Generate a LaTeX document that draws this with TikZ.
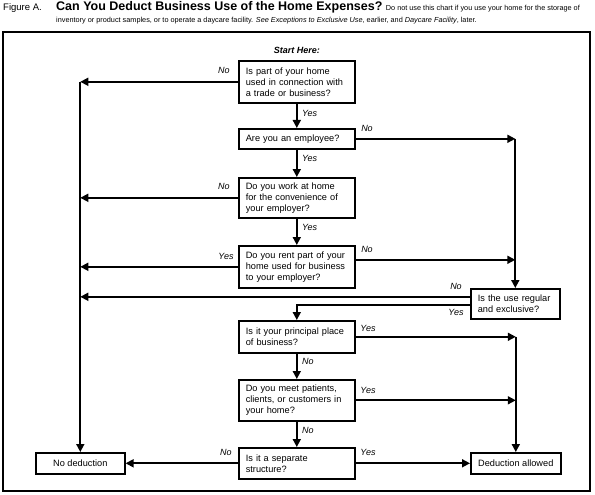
\documentclass[tikz,border=0pt]{standalone}
\usepackage{fontspec}
\setmainfont{Liberation Sans}
\usetikzlibrary{arrows.meta}

\begin{document}
\begin{tikzpicture}[x=1pt,y=-1pt,
	box/.style={draw, line width=1.6pt, anchor=north west, text width=102pt, inner xsep=7pt,
		align=left, font=\fontsize{9.2}{11}\selectfont},
	endbox/.style={draw, line width=1.6pt, anchor=north west, align=center, inner sep=0pt,
		font=\fontsize{9.2}{11}\selectfont},
	lbl/.style={font=\fontsize{9}{11}\selectfont\itshape, inner sep=0pt},
	arr/.style={line width=1.7pt, -{Triangle[length=8pt,width=8pt]}}]
	\useasboundingbox (0,0) rectangle (595,495);
	% title
	\node[anchor=base west, inner sep=0pt, font=\fontsize{9.5}{11}\selectfont] (fig) at (3,11) {Figure A.};
	\node[anchor=base west, inner sep=0pt] (ttl) at (56,11) {\fontsize{12.5}{14}\selectfont\bfseries Can You Deduct Business Use of the Home Expenses?\ \fontsize{7.3}{9}\selectfont\mdseries Do not use this chart if you use your home for the storage of};
	\node[anchor=base west, inner sep=0pt, font=\fontsize{7.3}{9}\selectfont] (sub) at (56,23) {inventory or product samples, or to operate a daycare facility. \textit{See Exceptions to Exclusive Use}, earlier, and \textit{Daycare Facility}, later.};
	\draw[line width=1.3pt] (3,32) rectangle (590,491);

	\node[font=\fontsize{9}{11}\selectfont\bfseries\itshape] (start) at (297,50) {Start Here:};

	% questions
	\node[box, minimum height=42pt] (b1) at (238,60) {Is part of your home\\used in connection with\\a trade or business?};
	\node[box, minimum height=20pt] (b2) at (238,128) {Are you an employee?};
	\node[box, minimum height=40pt] (b3) at (238,177) {Do you work at home\\for the convenience of\\your employer?};
	\node[box, minimum height=42pt] (b4) at (238,245) {Do you rent part of your\\home used for business\\to your employer?};
	\node[box, minimum height=30pt, text width=75pt] (b5) at (470,288) {Is the use regular\\and exclusive?};
	\node[box, minimum height=32pt] (b6) at (238,320) {Is it your principal place\\of business?};
	\node[box, minimum height=41pt] (b7) at (238,379) {Do you meet patients,\\clients, or customers in\\your home?};
	\node[box, minimum height=31pt] (b8) at (238,447) {Is it a separate\\structure?};
	\node[endbox, minimum width=89pt, minimum height=21pt] (nd) at (35,452) {No deduction};
	\node[endbox, minimum width=90pt, minimum height=21pt] (da) at (470,452) {Deduction allowed};

	% down the middle
	\draw[arr] (b1) -- (b2);
	\draw[arr] (b2) -- (b3);
	\draw[arr] (b3) -- (b4);
	\draw[arr] (b6) -- (b7);
	\draw[arr] (b7) -- (b8);
	\draw[arr] ([yshift=-1pt]b5.west) -| (b6.north);

	% to the left
	\draw[arr] (b1.west) -- (b1.west -| nd.north);
	\draw[arr] (b3.west) -- (b3.west -| nd.north);
	\draw[arr] (b4.west) -- (b4.west -| nd.north);
	\draw[arr] ([yshift=7pt]b5.west) -- ([yshift=7pt]b5.west -| nd.north);
	\draw[arr] (b1.west -| nd.north) -- (nd.north);
	\draw[arr] (b8.west) -- (nd.east);

	% to the right
	\draw[arr] (b2.east) -- (b2.east -| b5.north);
	\draw[arr] ([yshift=7pt]b4.east) -- ([yshift=7pt]b4.east -| b5.north);
	\draw[arr] (b2.east -| b5.north) -- (b5.north);
	\draw[arr] (b6.east) -- (b6.east -| da.north);
	\draw[arr] (b7.east) -- (b7.east -| da.north);
	\draw[arr] (b6.east -| da.north) -- (da.north);
	\draw[arr] (b8.east) -- (da.west);

	% labels
	\node[lbl] (l1) at (224,70) {No};
	\node[lbl, anchor=west] (l2) at (302,113) {Yes};
	\node[lbl] (l3) at (367,128) {No};
	\node[lbl, anchor=west] (l4) at (302,158) {Yes};
	\node[lbl] (l5) at (224,186) {No};
	\node[lbl, anchor=west] (l6) at (302,227) {Yes};
	\node[lbl] (l7) at (226,256) {Yes};
	\node[lbl] (l8) at (367,249) {No};
	\node[lbl] (l9) at (456,286) {No};
	\node[lbl] (l10) at (456,312) {Yes};
	\node[lbl] (l11) at (368,328) {Yes};
	\node[lbl, anchor=west] (l12) at (302,361) {No};
	\node[lbl] (l13) at (368,390) {Yes};
	\node[lbl, anchor=west] (l14) at (302,430) {No};
	\node[lbl] (l15) at (226,452) {No};
	\node[lbl] (l16) at (368,452) {Yes};
\end{tikzpicture}
\end{document}
